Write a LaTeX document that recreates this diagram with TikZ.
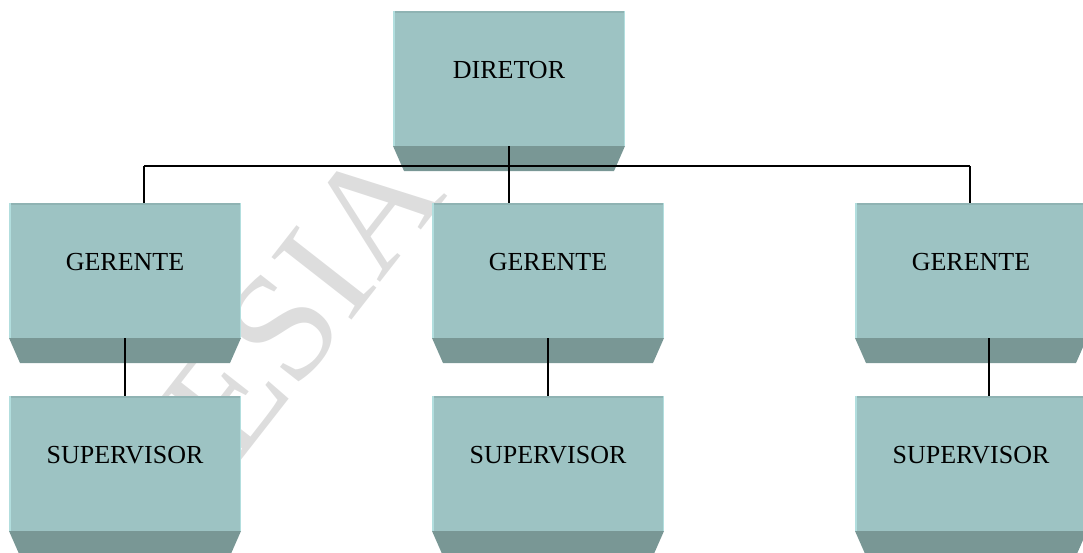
\documentclass[tikz,border=0pt]{standalone}
\usepackage{fontspec}
\setmainfont{Liberation Serif}
\usetikzlibrary{calc}

\definecolor{facec}{HTML}{9DC3C3}
\definecolor{bevelc}{HTML}{799795}
\definecolor{edgelight}{HTML}{B2DEDE}
\definecolor{edgedark}{HTML}{8FB3B3}
\definecolor{wmark}{HTML}{DDDDDD}

\tikzset{
  face/.style={fill=facec, draw=none, minimum width=232pt, minimum height=135pt,
               inner sep=0pt, outer sep=0pt, anchor=north west},
  lbl/.style={font=\fontsize{26}{30}\selectfont, inner sep=0pt, text=black},
  link/.style={draw=black, line width=1.5pt},
  stamp/.style={font=\fontsize{155}{155}\selectfont, text=wmark, inner sep=0pt, rotate=52},
}

% one org-chart box: front face, bottom bevel, edge highlights and label
% #1 name, #2 left, #3 top, #4 text
\newcommand{\orgbox}[4]{%
  \node[face] (#1) at (#2,#3) {};
  \fill[bevelc] (#1.south west) -- (#1.south east) -- ++(-11,25)
     -- ($(#1.south west)+(11,25)$) -- cycle;
  \draw[edgedark, line width=1.5pt] ([yshift=-0.75pt]#1.north west) -- ([yshift=-0.75pt]#1.north east);
  \draw[edgelight, line width=1.5pt] ([xshift=0.75pt]#1.south west) -- ([xshift=0.75pt]#1.north west);
  \draw[edgelight, line width=1.5pt] ([xshift=-0.75pt]#1.south east) -- ([xshift=-0.75pt]#1.north east);
  \node[lbl] (#1-t) at ($(#1.north)+(0,59)$) {#4};
}

\begin{document}
\begin{tikzpicture}[x=1pt, y=-1pt]
  \useasboundingbox (0,0) rectangle (1083,552);
  \clip (0,0) rectangle (1083,552);

  % faint background stamp
  \node[stamp] (wm) at (303,300) {ESIA};

  % boxes
  \orgbox{dir}{393}{11}{DIRETOR}
  \orgbox{g1}{9}{203}{GERENTE}
  \orgbox{g2}{432}{203}{GERENTE}
  \orgbox{g3}{855}{203}{GERENTE}
  \orgbox{s1}{9}{396}{SUPERVISOR}
  \orgbox{s2}{432}{396}{SUPERVISOR}
  \orgbox{s3}{855}{396}{SUPERVISOR}

  % director to managers
  \coordinate (busL) at (144,166);
  \coordinate (busR) at (970,166);
  \draw[link] (busL) -- (busR);
  \draw[link] (dir.south) -- (dir.south |- g2.north);
  \draw[link] (busL) -- (busL |- g1.north);
  \draw[link] (busR) -- (busR |- g3.north);

  % managers to supervisors
  \draw[link] (g1.south) -- (s1.north);
  \draw[link] (g2.south) -- (s2.north);
  \draw[link] ([xshift=18pt]g3.south) -- ([xshift=18pt]s3.north);
\end{tikzpicture}
\end{document}
